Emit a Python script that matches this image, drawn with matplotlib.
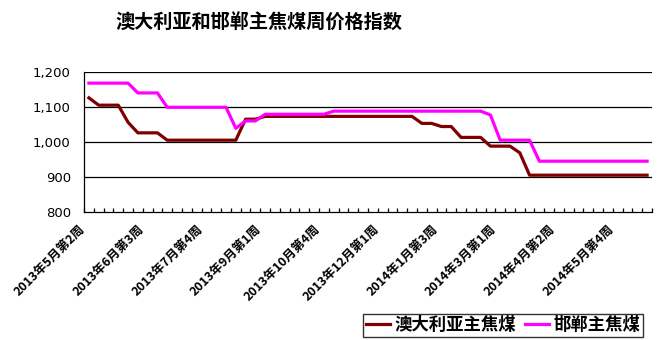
import matplotlib.pyplot as plt
from matplotlib.ticker import FuncFormatter, FixedLocator
from matplotlib.transforms import ScaledTranslation

plt.rcParams['font.family'] = ['Noto Sans CJK SC', 'DejaVu Sans']

# weekly index values, 58 weeks from 2013年5月第2周
australia = [1127, 1106, 1106, 1106, 1057, 1027, 1027, 1027, 1006, 1006,
             1006, 1006, 1006, 1006, 1006, 1006, 1066, 1066, 1074, 1074,
             1074, 1074, 1074, 1074, 1074, 1074, 1074, 1074, 1074, 1074,
             1074, 1074, 1074, 1074, 1054, 1054, 1045, 1045, 1014, 1014,
             1014, 989, 989, 989, 970, 906, 906, 906, 906, 906,
             906, 906, 906, 906, 906, 906, 906, 906]
handan = [1169, 1169, 1169, 1169, 1169, 1141, 1141, 1141, 1100, 1100,
          1100, 1100, 1100, 1100, 1100, 1040, 1061, 1061, 1080, 1080,
          1080, 1080, 1080, 1080, 1080, 1089, 1089, 1089, 1089, 1089,
          1089, 1089, 1089, 1089, 1089, 1089, 1089, 1089, 1089, 1089,
          1089, 1078, 1006, 1006, 1006, 1006, 946, 946, 946, 946,
          946, 946, 946, 946, 946, 946, 946, 946]
week_labels = ['2013年5月第2周', '2013年6月第3周', '2013年7月第4周', '2013年9月第1周',
               '2013年10月第4周', '2013年12月第1周', '2014年1月第3周', '2014年3月第1周',
               '2014年4月第2周', '2014年5月第4周']
label_weeks = [0, 6, 12, 18, 24, 30, 36, 42, 48, 54]
y_ticks = [800, 900, 1000, 1100, 1200]

fig = plt.figure(figsize=(6.63, 3.4), dpi=100)
ax = fig.add_axes([0.1267, 0.3756, 0.8567, 0.4118])

weeks = list(range(len(australia)))
ax.plot(weeks, australia, color='#800000', lw=2.3, label='澳大利亚主焦煤',
        solid_joinstyle='round')
ax.plot(weeks, handan, color='#FF00FF', lw=2.3, label='邯郸主焦煤',
        solid_joinstyle='round')

ax.set_xlim(-0.5, len(weeks) - 0.5)
ax.set_ylim(800, 1200)
ax.set_yticks(y_ticks)
ax.yaxis.set_major_formatter(FuncFormatter(lambda v, p: f'{int(v):,}'))
for y in y_ticks[1:]:
    ax.axhline(y, color='black', lw=0.9, zorder=0)

for s in ['top', 'right']:
    ax.spines[s].set_visible(False)
ax.spines['left'].set_linewidth(0.9)
ax.spines['bottom'].set_linewidth(0.9)

ax.tick_params(axis='y', length=0, pad=9.5, labelsize=9.5)
for lbl in ax.get_yticklabels():
    lbl.set_family('DejaVu Sans')

ax.xaxis.set_minor_locator(FixedLocator([w - 0.5 for w in range(len(weeks) + 1)]))
ax.tick_params(axis='x', which='minor', direction='in', length=3, width=0.9)
ax.set_xticks(label_weeks, week_labels)
ax.tick_params(axis='x', which='major', length=0, pad=10.5)
for lbl in ax.get_xticklabels():
    lbl.set_rotation(45)
    lbl.set_ha('right')
    lbl.set_va('center')
    lbl.set_rotation_mode('anchor')
    lbl.set_fontsize(9)
    lbl.set_fontweight('bold')
    lbl.set_transform(lbl.get_transform() + ScaledTranslation(-0.06, 0, fig.dpi_scale_trans))

fig.text(0.391, 0.932, '澳大利亚和邯郸主焦煤周价格指数', ha='center', va='center',
         fontsize=13.8, fontweight='bold')

leg = fig.legend(loc='lower right', bbox_to_anchor=(0.970, 0.009), ncol=2,
                 prop={'size': 12.5, 'weight': 'bold'}, frameon=True, fancybox=False,
                 edgecolor='black', handlelength=1.4, handletextpad=0.25,
                 columnspacing=0.5, borderpad=0.15, borderaxespad=0)
leg.get_frame().set_linewidth(1.0)

fig.savefig('out.png', dpi=100)
